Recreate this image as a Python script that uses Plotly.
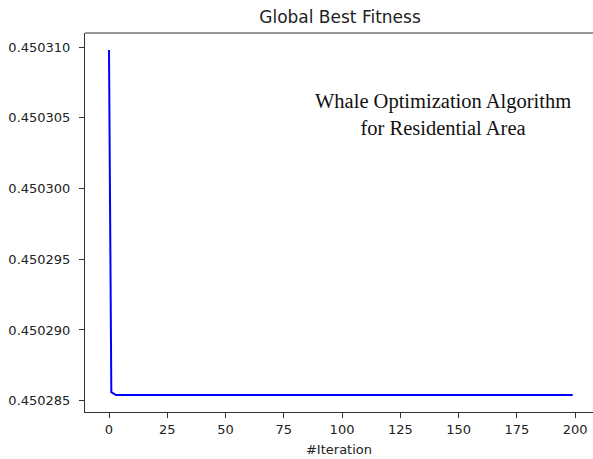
import plotly.graph_objects as go

# Data
iterations = list(range(200))
head_values = [0.4503098, 0.4502856, 0.4502855]
tail_value = 0.4502854
fitness = head_values + [tail_value] * (len(iterations) - len(head_values))

y_ticks = [0.450285, 0.450290, 0.450295, 0.450300, 0.450305, 0.450310]
x_ticks = [0, 25, 50, 75, 100, 125, 150, 175, 200]

fig = go.Figure()
fig.add_trace(go.Scatter(x=iterations, y=fitness, mode="lines",
                         line=dict(color="#0000ff", width=2), showlegend=False))

fig.update_layout(
    width=593, height=459,
    margin=dict(l=85, r=0, t=33, b=47, autoexpand=False),
    paper_bgcolor="white", plot_bgcolor="white",
    font=dict(family="DejaVu Sans", size=13, color="#222222"),
    title=dict(text="Global Best Fitness", x=0.502, xref="paper", xanchor="center",
               y=1 - 17 / 459, yref="container", yanchor="middle",
               font=dict(size=17, color="#222222")),
    xaxis=dict(range=[-10.3, 207.7], tickvals=x_ticks, showgrid=False, zeroline=False,
               automargin=False,
               showline=True, linecolor="#333333", linewidth=1,
               ticks="outside", ticklen=5, tickcolor="#333333",
               title=dict(text="#Iteration", standoff=9, font=dict(size=13))),
    yaxis=dict(range=[0.4502842, 0.4503110], tickvals=y_ticks, tickformat=".6f",
               showgrid=False, zeroline=False, automargin=False,
               showline=True, linecolor="#333333", linewidth=1,
               ticks="outside", ticklen=5, tickcolor="#333333",
               ticklabelstandoff=6),
    shapes=[dict(type="line", xref="paper", yref="paper", x0=0, x1=1, y0=1, y1=1,
                 line=dict(color="#333333", width=1))],
    annotations=[dict(text="Whale Optimization Algorithm<br>for Residential Area",
                      xref="paper", yref="paper",
                      x=(442.5 - 85) / 508, y=(412 - 114.5) / 379,
                      xanchor="center", yanchor="middle", showarrow=False,
                      font=dict(family="Liberation Serif", size=20.5, color="#111111"))],
)

fig.write_html("out.html", config={"displayModeBar": False},
               post_script="document.body.style.margin='0';")
